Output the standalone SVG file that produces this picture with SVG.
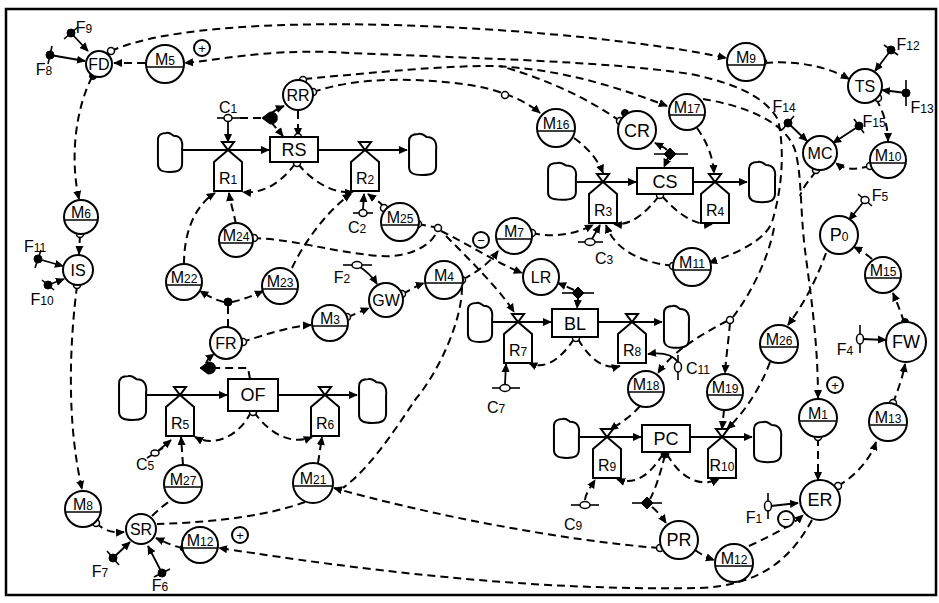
<svg xmlns="http://www.w3.org/2000/svg" width="939" height="603" viewBox="0 0 939 603">
<style>
.n{fill:#fff;stroke:#000;stroke-width:2}
.k{fill:none;stroke:#000;stroke-width:1.6}
.d{fill:none;stroke:#000;stroke-width:2;stroke-dasharray:8 5}
.s{fill:none;stroke:#000;stroke-width:1.8}
.f{fill:none;stroke:#000;stroke-width:2}
.o{fill:#fff;stroke:#000;stroke-width:1.5}
.b{fill:#000;stroke:#000;stroke-width:1}
text{font-family:"Liberation Sans",Arial,sans-serif;fill:#000}
.t{font-size:16px;text-anchor:middle}
.L{font-size:18px;text-anchor:middle}
.u{font-size:12px}
.g{font-size:13px;text-anchor:middle}
</style>
<defs>
<marker id="a" viewBox="0 0 10 10" refX="9" refY="5" markerWidth="9" markerHeight="9" markerUnits="userSpaceOnUse" orient="auto-start-reverse"><path d="M0,0.5 L10,5 L0,9.5 z"/></marker>
<path id="cl" d="M10,1 C14,0 16,3 18,4 C25,4 28,9 27,17 L27,33 C27,40 23,42 14,42 C5,42 1,40 1,34 L1,8 C1,3 5,1 10,1 Z" fill="#fff" stroke="#000" stroke-width="2" vector-effect="non-scaling-stroke"/>
<g id="rate"><path d="M-6,-8 L6,-8 L0,0 Z" class="n"/><path d="M0,0 L14,12 L14,41 L-14,41 L-14,12 Z" class="n"/></g>
</defs>
<rect x="6" y="9" width="930" height="586" fill="none" stroke="#000" stroke-width="2.5"/>

<g id="connectors">
<!-- solid source links -->
<path class="s" marker-end="url(#a)" d="M71,33 L88,51"/>
<path class="s" marker-end="url(#a)" d="M50,55 L85,61"/>
<path class="s" marker-end="url(#a)" d="M38,259 L63,266"/>
<path class="s" marker-end="url(#a)" d="M48,285 L64,279"/>
<path class="s" marker-end="url(#a)" d="M113,558 L130,542"/>
<path class="s" marker-end="url(#a)" d="M162,573 L148,546"/>
<path class="s" marker-end="url(#a)" d="M891,50 L875,71"/>
<path class="s" marker-end="url(#a)" d="M906,93 L882,90"/>
<path class="s" marker-end="url(#a)" d="M788,123 L807,141"/>
<path class="s" marker-end="url(#a)" d="M859,126 L833,143"/>
<path class="s" marker-end="url(#a)" d="M865,200 L849,220"/>
<path class="s" marker-end="url(#a)" d="M862,339 L886,340"/>
<path class="s" marker-end="url(#a)" d="M771,506 L798,503"/>
<path class="s" marker-end="url(#a)" d="M357,265 C365,270 372,276 377,284"/>
<path class="s" marker-end="url(#a)" d="M228,122 L228,142"/>
<path class="s" marker-end="url(#a)" d="M363,209 L364,194"/>
<path class="s" marker-end="url(#a)" d="M505,384 L506,364"/>
<path class="s" marker-end="url(#a)" d="M678,362 C672,354 662,352 648,354"/>
<path class="s" marker-end="url(#a)" d="M592,239 L600,225"/>
<path class="s" marker-end="url(#a)" d="M158,451 L171,440"/>
<path class="d" marker-end="url(#a)" d="M585,500 C585,495 590,488 595,480"/>
<!-- flows -->
<path class="f" marker-end="url(#a)" d="M183,150 L269,150"/>
<path class="f" marker-end="url(#a)" d="M318,150 L407,150"/>
<path class="f" marker-end="url(#a)" d="M577,182 L636,182"/>
<path class="f" marker-end="url(#a)" d="M693,182 L747,182"/>
<path class="f" marker-end="url(#a)" d="M493,322 L551,322"/>
<path class="f" marker-end="url(#a)" d="M598,322 L662,322"/>
<path class="f" marker-end="url(#a)" d="M147,395 L227,395"/>
<path class="f" marker-end="url(#a)" d="M278,395 L357,395"/>
<path class="f" marker-end="url(#a)" d="M580,437 L641,437"/>
<path class="f" marker-end="url(#a)" d="M690,437 L752,437"/>
<!-- dashed information links -->
<path class="d" marker-end="url(#a)" d="M111,51 C220,2 600,30 726,58"/>
<path class="d" marker-end="url(#a)" d="M765,63 C800,60 830,68 849,79"/>
<path class="d" marker-end="url(#a)" d="M876,99 C884,112 888,128 888,141"/>
<path class="d" marker-end="url(#a)" d="M870,166 C855,170 845,170 836,163"/>
<path class="d" marker-start="url(#a)" marker-end="url(#a)" d="M709,263 C740,252 765,240 772,222 C782,190 785,150 778,120 C765,95 730,82 690,74 C600,60 450,58 330,52 C260,50 220,60 185,63"/>
<path class="d" d="M774,228 C768,260 750,295 733,317"/>
<path class="d" marker-end="url(#a)" d="M730,323 C728,345 726,358 725,373"/>
<path class="d" marker-end="url(#a)" d="M727,321 C700,335 672,352 658,373"/>
<path class="d" marker-end="url(#a)" d="M703,99 C740,105 785,120 795,150 C802,175 800,210 805,250 C810,290 818,340 818,398"/>
<path class="d" d="M816,171 C810,180 803,186 800,196"/>
<path class="d" marker-end="url(#a)" d="M826,253 C818,275 808,298 788,325"/>
<path class="d" marker-end="url(#a)" d="M770,362 C760,390 742,415 727,429"/>
<path class="d" marker-end="url(#a)" d="M724,410 L722,429"/>
<path class="d" marker-end="url(#a)" d="M818,438 L818,480"/>
<path class="d" marker-end="url(#a)" d="M838,486 C855,476 870,460 876,442"/>
<path class="d" marker-end="url(#a)" d="M893,403 C898,390 903,376 905,364"/>
<path class="d" marker-end="url(#a)" d="M904,322 C900,310 896,300 893,293"/>
<path class="d" marker-end="url(#a)" d="M872,259 C866,254 860,250 854,247"/>
<path class="d" marker-end="url(#a)" d="M695,550 C702,555 708,558 714,560"/>
<path class="d" marker-end="url(#a)" d="M749,546 C770,536 790,527 803,515"/>
<path class="d" marker-end="url(#a)" d="M812,520 C790,560 760,585 700,588 C500,592 300,560 219,548"/>
<path class="d" marker-end="url(#a)" d="M183,548 C172,546 165,542 156,538"/>
<path class="d" marker-end="url(#a)" d="M96,523 C105,531 113,533 124,532"/>
<path class="d" marker-end="url(#a)" d="M77,286 C70,340 66,420 82,489"/>
<path class="d" marker-end="url(#a)" d="M80,235 L79,254"/>
<path class="d" marker-end="url(#a)" d="M92,77 C75,110 70,160 79,199"/>
<path class="d" marker-end="url(#a)" d="M145,63 L114,63"/>
<path class="d" marker-end="url(#a)" d="M304,79 C380,72 440,66 490,66 C560,68 620,88 667,106"/>
<path class="d" marker-end="url(#a)" d="M313,92 C360,76 420,78 470,85 C500,90 525,100 540,113"/>
<path class="d" d="M620,121 C590,100 550,80 500,66"/>
<path class="d" marker-end="url(#a)" d="M574,138 C588,148 598,160 603,173"/>
<path class="d" marker-end="url(#a)" d="M697,128 C707,142 713,157 714,173"/>
<path class="d" marker-end="url(#a)" d="M659,196 C645,214 630,226 614,224"/>
<path class="d" marker-end="url(#a)" d="M662,196 C678,214 695,226 712,224"/>
<path class="d" marker-end="url(#a)" d="M673,266 C640,262 615,250 606,225"/>
<path class="d" marker-end="url(#a)" d="M532,233 C555,238 575,234 593,225"/>
<path class="d" marker-end="url(#a)" d="M295,164 C280,184 262,194 243,192"/>
<path class="d" marker-end="url(#a)" d="M298,164 C315,184 335,194 353,192"/>
<path class="d" marker-end="url(#a)" d="M236,224 C233,210 230,200 229,193"/>
<path class="d" marker-end="url(#a)" d="M184,264 C184,230 196,205 215,193"/>
<path class="d" marker-end="url(#a)" d="M292,268 C305,240 330,208 351,194"/>
<path class="d" d="M253,238 C300,240 330,252 380,256 C410,258 432,245 437,231"/>
<path class="d" d="M418,224 L434,227"/>
<path class="d" marker-end="url(#a)" d="M441,231 C470,245 495,262 522,273"/>
<path class="d" marker-end="url(#a)" d="M384,207 C378,200 372,197 368,194"/>
<path class="d" d="M462,287 C462,320 440,370 415,400 C395,430 370,468 343,488"/>
<path class="d" marker-end="url(#a)" d="M446,236 C470,260 500,290 514,312"/>
<path class="d" marker-end="url(#a)" d="M463,279 C478,272 490,262 498,251"/>
<path class="d" marker-end="url(#a)" d="M659,548 C560,540 430,515 334,488"/>
<path class="d" d="M305,502 C270,515 220,522 157,524"/>
<path class="d" d="M152,516 C158,510 164,505 170,501"/>
<path class="d" marker-end="url(#a)" d="M183,465 L181,437"/>
<path class="d" marker-end="url(#a)" d="M251,412 C240,435 215,448 195,437"/>
<path class="d" marker-end="url(#a)" d="M254,412 C268,432 290,446 312,437"/>
<path class="d" marker-end="url(#a)" d="M318,463 L322,437"/>
<path class="d" d="M228,327 L228,306"/>
<path class="d" marker-end="url(#a)" d="M224,302 C215,300 208,296 200,291"/>
<path class="d" marker-end="url(#a)" d="M232,302 C242,300 252,296 263,291"/>
<path class="d" marker-end="url(#a)" d="M242,342 C265,335 290,326 311,325"/>
<path class="d" marker-end="url(#a)" d="M348,317 C355,314 362,311 369,308"/>
<path class="d" marker-end="url(#a)" d="M403,294 C410,290 416,286 424,283"/>
<path class="d" d="M250,379 L248,368 L212,368"/>
<path class="d" marker-end="url(#a)" d="M206,363 C207,360 210,357 214,354"/>
<path class="d" marker-end="url(#a)" d="M271,114 C275,110 279,108 284,106"/>
<path class="d" marker-end="url(#a)" d="M271,122 C275,127 279,131 283,136"/>
<path class="d" marker-end="url(#a)" d="M298,111 L298,136"/>
<path class="d" d="M240,118 L262,118"/>
<path class="d" marker-end="url(#a)" d="M667,150 C664,147 661,146 655,143"/>
<path class="d" marker-end="url(#a)" d="M668,158 L664,167"/>
<path class="d" marker-end="url(#a)" d="M574,290 C568,287 563,285 558,283"/>
<path class="d" marker-end="url(#a)" d="M578,298 L577,308"/>
<path class="d" marker-end="url(#a)" d="M574,339 C560,360 545,370 529,363"/>
<path class="d" marker-end="url(#a)" d="M578,339 C590,360 605,370 620,366"/>
<path class="d" marker-end="url(#a)" d="M640,406 C630,418 617,425 610,430"/>
<path class="d" marker-end="url(#a)" d="M663,454 C650,475 635,486 617,479"/>
<path class="d" marker-end="url(#a)" d="M667,454 C680,478 700,488 719,479"/>
<path class="d" d="M665,455 C660,475 655,490 650,499"/>
<path class="d" marker-end="url(#a)" d="M652,507 C658,512 662,517 666,523"/>
<!-- origin circles and dots -->
<circle class="o" cx="111" cy="51" r="3.5"/>
<circle class="o" cx="303" cy="80" r="3.5"/>
<circle class="o" cx="313" cy="92" r="3.5"/>
<circle class="o" cx="620" cy="121" r="3.5"/>
<circle class="o" cx="505" cy="95" r="3.5"/>
<circle class="o" cx="763" cy="62" r="3.5"/>
<circle class="o" cx="878" cy="98" r="3.5"/>
<circle class="o" cx="870" cy="166" r="3.5"/>
<circle class="o" cx="816" cy="170" r="3.5"/>
<circle class="o" cx="893" cy="403" r="3.5"/>
<circle class="o" cx="838" cy="486" r="3.5"/>
<circle class="o" cx="818" cy="437" r="3.5"/>
<circle class="o" cx="660" cy="548" r="3.5"/>
<circle class="o" cx="96" cy="523" r="3.5"/>
<circle class="o" cx="77" cy="285" r="3.5"/>
<circle class="o" cx="80" cy="234" r="3.5"/>
<circle class="o" cx="243" cy="342" r="3.5"/>
<circle class="o" cx="347" cy="317" r="3.5"/>
<circle class="o" cx="402" cy="294" r="3.5"/>
<circle class="o" cx="462" cy="280" r="3.5"/>
<circle class="o" cx="384" cy="208" r="3.5"/>
<circle class="o" cx="418" cy="224" r="3.5"/>
<circle class="o" cx="438" cy="228" r="3.5"/>
<circle class="o" cx="254" cy="238" r="3.5"/>
<circle class="o" cx="532" cy="233" r="3.5"/>
<circle class="o" cx="673" cy="266" r="3.5"/>
<circle class="o" cx="660" cy="195" r="3.5"/>
<circle class="o" cx="297" cy="163" r="3.5"/>
<circle class="o" cx="298" cy="137" r="3.5"/>
<circle class="o" cx="576" cy="338" r="3.5"/>
<circle class="o" cx="253" cy="412" r="3.5"/>
<circle class="o" cx="730" cy="320" r="3.5"/>
<circle class="b" cx="93" cy="76" r="3.5"/>
<circle class="b" cx="228" cy="302" r="4"/>
<circle class="b" cx="625" cy="113" r="3.5"/>
<circle class="b" cx="905" cy="322" r="3.5"/>
<circle class="b" cx="665" cy="454" r="4"/>
<circle class="b" cx="183" cy="548" r="3"/>
</g>

<g id="signs">
<circle class="n" cx="202" cy="48" r="8" stroke-width="1.5"/><text class="g" x="202" y="53">+</text>
<circle class="n" cx="481" cy="240" r="8" stroke-width="1.5"/><text class="g" x="481" y="245">−</text>
<circle class="n" cx="835" cy="385" r="8" stroke-width="1.5"/><text class="g" x="835" y="390">+</text>
<circle class="n" cx="786" cy="519" r="8" stroke-width="1.5"/><text class="g" x="786" y="524">−</text>
<circle class="n" cx="240" cy="535" r="8" stroke-width="1.5"/><text class="g" x="240" y="540">+</text>
</g>

<g id="pickoffs">
<path class="b" d="M262,118 L270,112 C276,112 278,116 277,118 C278,120 276,124 270,124 Z"/>
<path class="b" d="M200,368 L208,362 C214,362 216,366 215,368 C216,370 214,374 208,374 Z"/>
<line class="k" x1="654" y1="154" x2="688" y2="154"/><path class="b" d="M670,148 L676,154 L670,160 L664,154 Z"/>
<line class="k" x1="562" y1="293" x2="594" y2="293"/><path class="b" d="M578,287 L584,293 L578,299 L572,293 Z"/>
<line class="k" x1="632" y1="503" x2="662" y2="503"/><path class="b" d="M647,497 L653,503 L647,509 L641,503 Z"/>
</g>

<g id="clouds">
<use href="#cl" transform="translate(157,132) scale(0.93,0.95)"/>
<use href="#cl" transform="translate(408,133) scale(1.04,1)"/>
<use href="#cl" transform="translate(547,162) scale(1.07,0.9)"/>
<use href="#cl" transform="translate(748,161) scale(1,0.98)"/>
<use href="#cl" transform="translate(467,302) scale(0.93,0.95)"/>
<use href="#cl" transform="translate(663,305) scale(0.96,1.02)"/>
<use href="#cl" transform="translate(118,375) scale(1.04,1.07)"/>
<use href="#cl" transform="translate(358,378) scale(1.04,1.07)"/>
<use href="#cl" transform="translate(553,418) scale(0.96,0.95)"/>
<use href="#cl" transform="translate(753,421) scale(1.04,0.98)"/>
</g>

<g id="RS"><rect class="n" x="270" y="137" width="48" height="25"/><text class="L" x="294" y="156">RS</text></g>
<g id="CS"><rect class="n" x="637" y="168" width="56" height="26"/><text class="L" x="665" y="188">CS</text></g>
<g id="BL"><rect class="n" x="552" y="309" width="46" height="28"/><text class="L" x="575" y="330">BL</text></g>
<g id="OF"><rect class="n" x="228" y="379" width="50" height="32"/><text class="L" x="253" y="401">OF</text></g>
<g id="PC"><rect class="n" x="642" y="425" width="48" height="27"/><text class="L" x="666" y="445">PC</text></g>

<g id="R1"><use href="#rate" x="228" y="150"/><text class="t" x="228" y="184">R<tspan class="u">1</tspan></text></g>
<g id="R2"><use href="#rate" x="365" y="150"/><text class="t" x="365" y="184">R<tspan class="u">2</tspan></text></g>
<g id="R3"><use href="#rate" x="603" y="182"/><text class="t" x="603" y="216">R<tspan class="u">3</tspan></text></g>
<g id="R4"><use href="#rate" x="715" y="182"/><text class="t" x="715" y="216">R<tspan class="u">4</tspan></text></g>
<g id="R7"><use href="#rate" x="518" y="322"/><text class="t" x="518" y="356">R<tspan class="u">7</tspan></text></g>
<g id="R8"><use href="#rate" x="632" y="322"/><text class="t" x="632" y="356">R<tspan class="u">8</tspan></text></g>
<g id="R5"><use href="#rate" x="180" y="395"/><text class="t" x="180" y="429">R<tspan class="u">5</tspan></text></g>
<g id="R6"><use href="#rate" x="325" y="395"/><text class="t" x="325" y="429">R<tspan class="u">6</tspan></text></g>
<g id="R9"><use href="#rate" x="607" y="437"/><text class="t" x="607" y="471">R<tspan class="u">9</tspan></text></g>
<g id="R10"><use href="#rate" x="722" y="437"/><text class="t" x="722" y="471">R<tspan class="u">10</tspan></text></g>

<g id="FD"><circle class="n" cx="99" cy="64" r="13"/><text class="t" x="99" y="70" font-size="14">FD</text></g>
<g id="IS"><circle class="n" cx="78" cy="270" r="15"/><text class="t" x="78" y="276">IS</text></g>
<g id="SR"><circle class="n" cx="141" cy="529" r="15"/><text class="t" x="141" y="535">SR</text></g>
<g id="RR"><circle class="n" cx="298" cy="95" r="15"/><text class="t" x="298" y="101">RR</text></g>
<g id="FR"><circle class="n" cx="226" cy="343" r="16"/><text class="t" x="226" y="349">FR</text></g>
<g id="GW"><circle class="n" cx="386" cy="300" r="17"/><text class="t" x="386" y="306">GW</text></g>
<g id="LR"><circle class="n" cx="541" cy="277" r="18"/><text class="t" x="541" y="283">LR</text></g>
<g id="CR"><circle class="n" cx="637" cy="130" r="19"/><text class="L" x="637" y="137">CR</text></g>
<g id="TS"><circle class="n" cx="865" cy="86" r="17"/><text class="t" x="865" y="92">TS</text></g>
<g id="MC"><circle class="n" cx="820" cy="153" r="17"/><text class="t" x="820" y="159">MC</text></g>
<g id="P0"><circle class="n" cx="839" cy="235" r="19"/><text class="L" x="839" y="241">P<tspan class="u">0</tspan></text></g>
<g id="FW"><circle class="n" cx="906" cy="342" r="20"/><text class="L" x="906" y="348">FW</text></g>
<g id="ER"><circle class="n" cx="820" cy="500" r="20"/><text class="L" x="820" y="506">ER</text></g>
<g id="PR"><circle class="n" cx="679" cy="540" r="19"/><text class="L" x="679" y="546">PR</text></g>

<g id="M5"><circle class="n" cx="165" cy="64" r="19"/><line class="k" x1="146" y1="67" x2="184" y2="67"/><text class="t" x="165" y="65">M<tspan class="u">5</tspan></text></g>
<g id="M6"><circle class="n" cx="81" cy="217" r="17"/><line class="k" x1="64" y1="220" x2="98" y2="220"/><text class="t" x="81" y="218">M<tspan class="u">6</tspan></text></g>
<g id="M8"><circle class="n" cx="83" cy="509" r="18"/><line class="k" x1="65" y1="512" x2="101" y2="512"/><text class="t" x="83" y="510">M<tspan class="u">8</tspan></text></g>
<g id="M12a"><circle class="n" cx="200" cy="545" r="18"/><line class="k" x1="182" y1="548" x2="218" y2="548"/><text class="t" x="200" y="546">M<tspan class="u">12</tspan></text></g>
<g id="M27"><circle class="n" cx="183" cy="484" r="19"/><line class="k" x1="164" y1="487" x2="202" y2="487"/><text class="t" x="183" y="485">M<tspan class="u">27</tspan></text></g>
<g id="M21"><circle class="n" cx="313" cy="483" r="20"/><line class="k" x1="293" y1="486" x2="333" y2="486"/><text class="t" x="313" y="484">M<tspan class="u">21</tspan></text></g>
<g id="M22"><circle class="n" cx="184" cy="282" r="18"/><line class="k" x1="166" y1="285" x2="202" y2="285"/><text class="t" x="184" y="283">M<tspan class="u">22</tspan></text></g>
<g id="M24"><circle class="n" cx="236" cy="240" r="17"/><line class="k" x1="219" y1="243" x2="253" y2="243"/><text class="t" x="236" y="241">M<tspan class="u">24</tspan></text></g>
<g id="M23"><circle class="n" cx="280" cy="286" r="18"/><line class="k" x1="262" y1="289" x2="298" y2="289"/><text class="t" x="280" y="287">M<tspan class="u">23</tspan></text></g>
<g id="M3"><circle class="n" cx="330" cy="323" r="18"/><line class="k" x1="312" y1="326" x2="348" y2="326"/><text class="t" x="330" y="324">M<tspan class="u">3</tspan></text></g>
<g id="M4"><circle class="n" cx="444" cy="280" r="19"/><line class="k" x1="425" y1="283" x2="463" y2="283"/><text class="t" x="444" y="281">M<tspan class="u">4</tspan></text></g>
<g id="M25"><circle class="n" cx="400" cy="222" r="19"/><line class="k" x1="381" y1="225" x2="419" y2="225"/><text class="t" x="400" y="223">M<tspan class="u">25</tspan></text></g>
<g id="M7"><circle class="n" cx="514" cy="236" r="18"/><line class="k" x1="496" y1="239" x2="532" y2="239"/><text class="t" x="514" y="237">M<tspan class="u">7</tspan></text></g>
<g id="M16"><circle class="n" cx="556" cy="128" r="19"/><line class="k" x1="537" y1="131" x2="575" y2="131"/><text class="t" x="556" y="129">M<tspan class="u">16</tspan></text></g>
<g id="M17"><circle class="n" cx="687" cy="112" r="18"/><line class="k" x1="669" y1="115" x2="705" y2="115"/><text class="t" x="687" y="113">M<tspan class="u">17</tspan></text></g>
<g id="M11"><circle class="n" cx="692" cy="267" r="19"/><line class="k" x1="673" y1="270" x2="711" y2="270"/><text class="t" x="692" y="268">M<tspan class="u">11</tspan></text></g>
<g id="M9"><circle class="n" cx="746" cy="62" r="19"/><line class="k" x1="727" y1="65" x2="765" y2="65"/><text class="t" x="746" y="63">M<tspan class="u">9</tspan></text></g>
<g id="M10"><circle class="n" cx="888" cy="160" r="18"/><line class="k" x1="870" y1="163" x2="906" y2="163"/><text class="t" x="888" y="161">M<tspan class="u">10</tspan></text></g>
<g id="M15"><circle class="n" cx="883" cy="275" r="18"/><line class="k" x1="865" y1="278" x2="901" y2="278"/><text class="t" x="883" y="276">M<tspan class="u">15</tspan></text></g>
<g id="M26"><circle class="n" cx="779" cy="344" r="19"/><line class="k" x1="760" y1="347" x2="798" y2="347"/><text class="t" x="779" y="345">M<tspan class="u">26</tspan></text></g>
<g id="M18"><circle class="n" cx="646" cy="389" r="18"/><line class="k" x1="628" y1="392" x2="664" y2="392"/><text class="t" x="646" y="390">M<tspan class="u">18</tspan></text></g>
<g id="M19"><circle class="n" cx="725" cy="392" r="18"/><line class="k" x1="707" y1="395" x2="743" y2="395"/><text class="t" x="725" y="393">M<tspan class="u">19</tspan></text></g>
<g id="M1"><circle class="n" cx="818" cy="418" r="19"/><line class="k" x1="799" y1="421" x2="837" y2="421"/><text class="t" x="818" y="419">M<tspan class="u">1</tspan></text></g>
<g id="M13"><circle class="n" cx="888" cy="422" r="19"/><line class="k" x1="869" y1="425" x2="907" y2="425"/><text class="t" x="888" y="423">M<tspan class="u">13</tspan></text></g>
<g id="M12b"><circle class="n" cx="734" cy="563" r="19"/><line class="k" x1="715" y1="566" x2="753" y2="566"/><text class="t" x="734" y="564">M<tspan class="u">12</tspan></text></g>

<g id="F9"><line class="k" x1="64" y1="39" x2="78" y2="27"/><circle class="b" cx="71" cy="33" r="4"/><text class="t" x="84" y="33">F<tspan class="u">9</tspan></text></g>
<g id="F8"><line class="k" x1="48" y1="64" x2="52" y2="46"/><circle class="b" cx="50" cy="55" r="4"/><text class="t" x="44" y="75">F<tspan class="u">8</tspan></text></g>
<g id="F11"><line class="k" x1="35" y1="268" x2="41" y2="250"/><circle class="b" cx="38" cy="259" r="4"/><text class="t" x="35" y="252">F<tspan class="u">11</tspan></text></g>
<g id="F10"><line class="k" x1="42" y1="280" x2="54" y2="290"/><circle class="b" cx="48" cy="285" r="4"/><text class="t" x="42" y="305">F<tspan class="u">10</tspan></text></g>
<g id="F7"><line class="k" x1="107" y1="551" x2="119" y2="565"/><circle class="b" cx="113" cy="558" r="4"/><text class="t" x="100" y="577">F<tspan class="u">7</tspan></text></g>
<g id="F6"><line class="k" x1="154" y1="577" x2="170" y2="569"/><circle class="b" cx="162" cy="573" r="4"/><text class="t" x="160" y="591">F<tspan class="u">6</tspan></text></g>
<g id="F12"><line class="k" x1="884" y1="45" x2="898" y2="55"/><circle class="b" cx="891" cy="50" r="4"/><text class="t" x="908" y="50">F<tspan class="u">12</tspan></text></g>
<g id="F13"><line class="k" x1="906" y1="80" x2="906" y2="106"/><circle class="b" cx="906" cy="93" r="4"/><text class="t" x="922" y="113">F<tspan class="u">13</tspan></text></g>
<g id="F14"><line class="k" x1="782" y1="130" x2="794" y2="116"/><circle class="b" cx="788" cy="123" r="4"/><text class="t" x="784" y="112">F<tspan class="u">14</tspan></text></g>
<g id="F15"><line class="k" x1="854" y1="119" x2="864" y2="133"/><circle class="b" cx="859" cy="126" r="4"/><text class="t" x="874" y="127">F<tspan class="u">15</tspan></text></g>
<g id="F5"><line class="k" x1="858" y1="194" x2="872" y2="206"/><ellipse class="o" cx="865" cy="200" rx="4" ry="3.5"/><text class="t" x="880" y="201">F<tspan class="u">5</tspan></text></g>
<g id="F4"><line class="k" x1="860" y1="325" x2="860" y2="353"/><ellipse class="o" cx="860" cy="339" rx="3.5" ry="5"/><text class="t" x="845" y="355">F<tspan class="u">4</tspan></text></g>
<g id="F1"><line class="k" x1="768" y1="493" x2="768" y2="519"/><ellipse class="o" cx="768" cy="506" rx="3.5" ry="5"/><text class="t" x="754" y="523">F<tspan class="u">1</tspan></text></g>
<g id="F2"><line class="k" x1="343" y1="265" x2="372" y2="265"/><ellipse class="o" cx="357" cy="265" rx="5" ry="3.5"/><text class="t" x="342" y="283">F<tspan class="u">2</tspan></text></g>
<g id="C1"><line class="k" x1="217" y1="118" x2="240" y2="118"/><ellipse class="o" cx="228" cy="118" rx="4" ry="3.5"/><text class="t" x="228" y="113">C<tspan class="u">1</tspan></text></g>
<g id="C2"><line class="k" x1="353" y1="213" x2="373" y2="213"/><ellipse class="o" cx="363" cy="213" rx="4" ry="3.5"/><text class="t" x="357" y="233">C<tspan class="u">2</tspan></text></g>
<g id="C3"><line class="k" x1="578" y1="242" x2="603" y2="242"/><ellipse class="o" cx="590" cy="242" rx="5" ry="3.5"/><text class="t" x="604" y="264">C<tspan class="u">3</tspan></text></g>
<g id="C5"><line class="k" x1="147" y1="458" x2="163" y2="448"/><ellipse class="o" cx="155" cy="453" rx="4" ry="3"/><text class="t" x="145" y="470">C<tspan class="u">5</tspan></text></g>
<g id="C7"><line class="k" x1="492" y1="388" x2="520" y2="388"/><ellipse class="o" cx="505" cy="388" rx="5" ry="3.5"/><text class="t" x="496" y="413">C<tspan class="u">7</tspan></text></g>
<g id="C9"><line class="k" x1="571" y1="505" x2="599" y2="505"/><ellipse class="o" cx="585" cy="505" rx="5" ry="3.5"/><text class="t" x="573" y="530">C<tspan class="u">9</tspan></text></g>
<g id="C11"><line class="k" x1="678" y1="355" x2="678" y2="380"/><ellipse class="o" cx="678" cy="367" rx="3.5" ry="5"/><text x="686" y="374" font-size="16">C<tspan class="u">11</tspan></text></g>
</svg>
